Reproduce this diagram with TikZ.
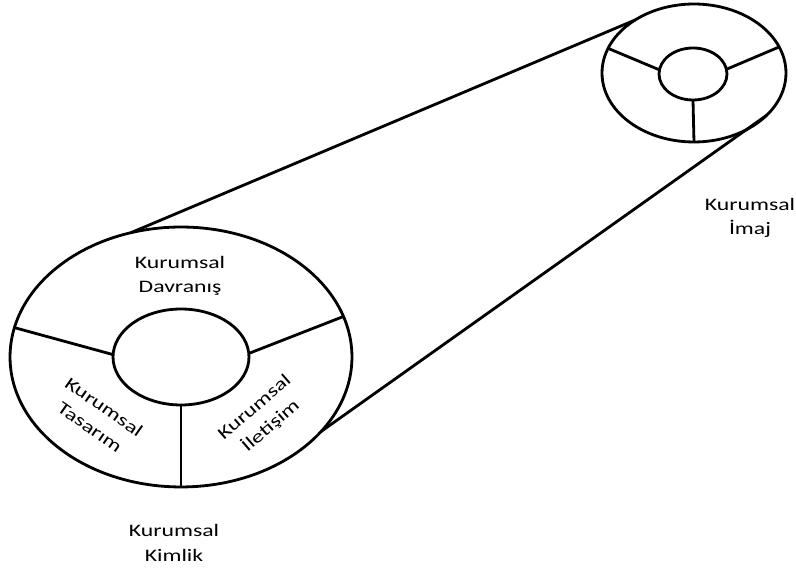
\documentclass[tikz,border=0pt]{standalone}
\usepackage{fontspec}
\setmainfont{Carlito}
\usetikzlibrary{shapes.geometric}
\begin{document}
\begin{tikzpicture}[x=0.02cm, y=-0.02cm, line width=1.6pt,
        ring/.style={ellipse, draw, inner sep=0pt, outer sep=0pt},
        lbl/.style={align=center, inner sep=0pt, font=\fontsize{10}{14}\selectfont, xscale=1.35}]
    \useasboundingbox (0,0) rectangle (796,570);
    \node[ring, minimum width=6.84cm, minimum height=5.2cm] (K) at (181,357) {};
    \node[ring, minimum width=2.72cm, minimum height=1.92cm] (Kc) at (181,357) {};
    \node[ring, minimum width=3.68cm, minimum height=2.76cm] (I) at (694,73) {};
    \node[ring, minimum width=1.36cm, minimum height=1.04cm] (Ic) at (693,74) {};
    \draw (K.112) -- (I.138);
    \draw (K.-28) -- (I.-30);
    \draw (Kc.178) -- (K.170);
    \draw (Kc.3) -- (K.14);
    \draw (Kc.south) -- (K.south);
    \draw (Ic.173) -- (I.164);
    \draw (Ic.8) -- (I.17);
    \draw (Ic.south) -- (I.south);
    \node[lbl] (davranis) at (180,276) {Kurumsal\\Davranış};
    \node[rotate=-35, lbl] (tasarim) at (97,417) {Kurumsal\\Tasarım};
    \node[rotate=41, lbl] (iletisim) at (263,417) {Kurumsal\\İletişim};
    \node[lbl] (imaj) at (750,218) {Kurumsal\\İmaj};
    \node[lbl] (kimlik) at (174,543) {Kurumsal\\Kimlik};
\end{tikzpicture}
\end{document}
